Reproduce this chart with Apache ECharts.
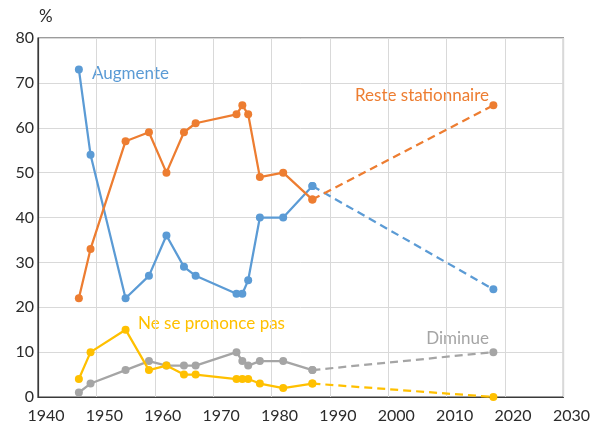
<!DOCTYPE html>
<html>
<head>
<meta charset="utf-8">
<script src="https://cdn.jsdelivr.net/npm/echarts@6/dist/echarts.min.js"></script>
<style>html,body{margin:0;padding:0;background:#fff}#c{width:593px;height:427px}</style>
</head>
<body>
<div id="c"></div>
<script>
const years = [1947, 1949, 1955, 1959, 1962, 1965, 1967, 1974, 1975, 1976, 1978, 1982, 1987, 2018];
const augmente = [73, 54, 22, 27, 36, 29, 27, 23, 23, 26, 40, 40, 47, 24];
const resteStationnaire = [22, 33, 57, 59, 50, 59, 61, 63, 65, 63, 49, 50, 44, 65];
const diminue = [1, 3, 6, 8, 7, 7, 7, 10, 8, 7, 8, 8, 6, 10];
const nePrononcePas = [4, 10, 15, 6, 7, 5, 5, 4, 4, 4, 3, 2, 3, 0];
const seriesNames = ['Augmente', 'Reste stationnaire', 'Diminue', 'Ne se prononce pas'];
const colors = ['#5B9BD5', '#ED7D31', '#A5A5A5', '#FFC000'];
const allValues = [augmente, resteStationnaire, diminue, nePrononcePas];
const solidCount = 13; // points joined by solid line; the last segment is dashed

const FONT = 'Lato';
const series = [];
allValues.forEach((vals, i) => {
  const pts = years.map((y, k) => [y, vals[k]]);
  series.push({
    name: seriesNames[i], type: 'line', data: pts.slice(0, solidCount),
    symbol: 'circle', symbolSize: 8, z: 2 + i,
    itemStyle: { color: colors[i] },
    lineStyle: { color: colors[i], width: 2.25 }, animation: false
  });
  series.push({
    name: seriesNames[i] + ' (tendance)', type: 'line', data: pts.slice(solidCount - 1),
    symbol: 'circle', symbolSize: 8, z: 2 + i,
    itemStyle: { color: colors[i] },
    lineStyle: { color: colors[i], width: 2.25, type: [8, 5] }, animation: false
  });
});

const chart = echarts.init(document.getElementById('c'), null, { renderer: 'canvas' });
chart.setOption({
  backgroundColor: '#fff',
  animation: false,
  grid: { left: 38, right: 26, top: 38, bottom: 30, show: true, borderColor: '#3a3a3a', borderWidth: 1.2 },
  xAxis: {
    type: 'value', min: 1940, max: 2030, interval: 10,
    axisLine: { show: true, onZero: false, lineStyle: { color: '#3a3a3a', width: 1.2 } },
    axisTick: { show: false },
    splitLine: { show: true, lineStyle: { color: '#D9D9D9', width: 1 } },
    axisLabel: { color: '#2b2b2b', fontFamily: FONT, fontSize: 16, margin: 11, padding: [0, 0, 0, 16],
      formatter: v => String(v) }
  },
  yAxis: {
    type: 'value', min: 0, max: 80, interval: 10,
    axisLine: { show: true, lineStyle: { color: '#3a3a3a', width: 1.2 } },
    axisTick: { show: false },
    splitLine: { show: true, lineStyle: { color: '#D9D9D9', width: 1 } },
    axisLabel: { color: '#2b2b2b', fontFamily: FONT, fontSize: 16, margin: 4 }
  },
  graphic: [
    { type: 'text', left: 39, top: 8, style: { text: '%', fill: '#2b2b2b', font: '17px ' + FONT } },
    { type: 'text', x: 92, y: 74, style: { text: seriesNames[0], fill: colors[0], font: '17px ' + FONT, verticalAlign: 'middle' } },
    { type: 'text', x: 489, y: 96, style: { text: seriesNames[1], fill: colors[1], font: '17px ' + FONT, align: 'right', verticalAlign: 'middle' } },
    { type: 'text', x: 489, y: 339, style: { text: seriesNames[2], fill: '#A5A5A5', font: '17px ' + FONT, align: 'right', verticalAlign: 'middle' } },
    { type: 'text', x: 138, y: 324, style: { text: seriesNames[3], fill: colors[3], font: '17px ' + FONT, verticalAlign: 'middle' } }
  ],
  series: series
});
</script>
</body>
</html>
